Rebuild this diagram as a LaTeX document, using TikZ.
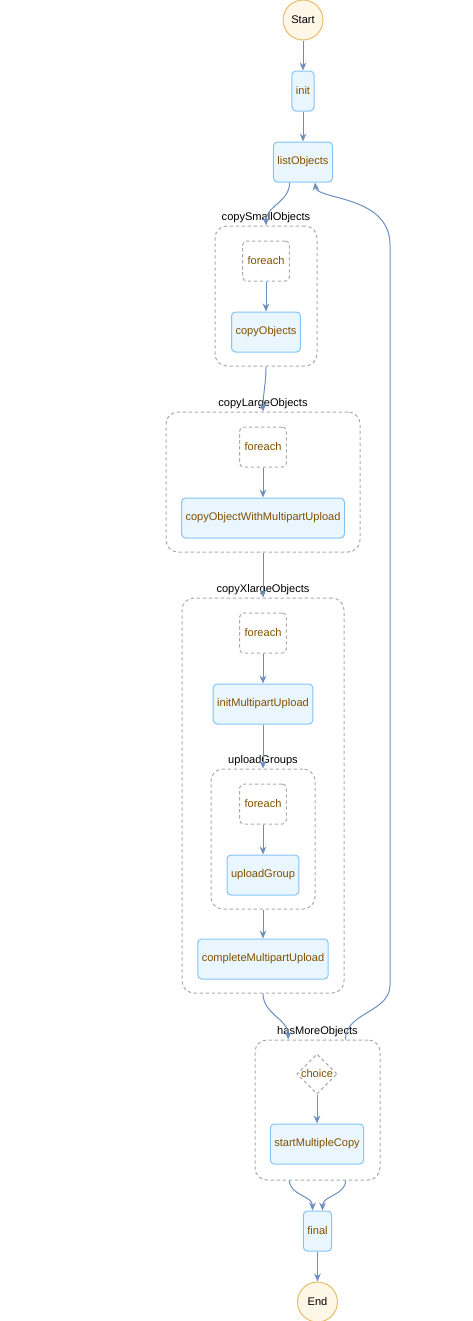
\documentclass[tikz,border=0pt]{standalone}
\usepackage{fontspec}
\setmainfont{Liberation Sans}
\usetikzlibrary{positioning,shapes.geometric,arrows.meta}
\definecolor{edgeblue}{RGB}{108,142,191}
\definecolor{taskfill}{RGB}{234,246,253}
\definecolor{taskline}{RGB}{132,196,246}
\definecolor{stepbrown}{RGB}{128,80,0}
\definecolor{termfill}{RGB}{254,246,230}
\definecolor{termline}{RGB}{228,190,106}
\definecolor{grpline}{RGB}{170,170,170}
\tikzset{
	task/.style={draw=taskline, fill=taskfill, rectangle, rounded corners=3pt, text=stepbrown, minimum height=30pt, inner xsep=3pt, line width=0.75pt},
	loopbox/.style={draw=grpline, dash pattern=on 2.5pt off 2pt, rectangle, rounded corners=3pt, text=stepbrown, minimum height=30pt, minimum width=35pt, line width=0.75pt},
	term/.style={draw=termline, fill=termfill, circle, minimum size=30pt, inner sep=0pt, line width=0.75pt},
	grp/.style={draw=grpline, dash pattern=on 2.5pt off 2pt, rectangle, rounded corners=9pt, inner sep=0pt, line width=0.75pt},
	glbl/.style={inner sep=1pt}
}
\begin{document}
\begin{tikzpicture}[
				x=0.75pt, y=-0.75pt,
				every node/.append style={font=\fontsize{8.3}{10}\selectfont},
				cho/.style={draw=grpline, dash pattern=on 2.5pt off 2pt, diamond, aspect=1, inner sep=0pt, text=stepbrown, line width=0.75pt},
				arrow/.style={-{Stealth[length=6pt,width=5pt]}, draw=edgeblue, line width=0.75pt}
				]
				\useasboundingbox (0,0) rectangle (473,1321);
				
				\node[term] (start) at (303,20) {Start};
				\node[task, below=22.5pt of start] (init) {init};
				\node[task, below=22.5pt of init] (list) {listObjects};
				
				% copySmallObjects
				\node[grp, minimum width=76.5pt, minimum height=105pt] (gsmall) at (266,296) {};
				\node[glbl, above=0.5pt of gsmall] (gsmalll) {copySmallObjects};
				\node[loopbox] (fe1) at (266,261) {foreach};
				\node[task, below=22.5pt of fe1] (copyobj) {copyObjects};
				
				% copyLargeObjects
				\node[grp, minimum width=145.5pt, minimum height=105pt] (glarge) at (263,482) {};
				\node[glbl, above=0.5pt of glarge] (glargel) {copyLargeObjects};
				\node[loopbox] (fe2) at (263,447) {foreach};
				\node[task, below=22.5pt of fe2] (cowmu) {copyObjectWithMultipartUpload};
				
				% copyXlargeObjects
				\node[grp, minimum width=121.5pt, minimum height=296.25pt] (gxl) at (263,795.5) {};
				\node[glbl, above=0.5pt of gxl] (gxll) {copyXlargeObjects};
				\node[loopbox] (fe3) at (263,633) {foreach};
				\node[task, below=22.5pt of fe3] (initmu) {initMultipartUpload};
				\node[grp, minimum width=78pt, minimum height=105pt] (gup) at (263,839) {};
				\node[glbl, above=0.5pt of gup] (gupl) {uploadGroups};
				\node[loopbox] (fe4) at (263,804) {foreach};
				\node[task, below=22.5pt of fe4] (upg) {uploadGroup};
				\node[task] (complmu) at (263,959) {completeMultipartUpload};
				
				% hasMoreObjects
				\node[grp, minimum width=93.75pt, minimum height=105pt] (ghas) at (317.5,1110) {};
				\node[glbl, above=0.5pt of ghas] (ghasl) {hasMoreObjects};
				\node[cho] (choice) at (317,1074) {choice};
				\node[task] (smc) at (317,1144) {startMultipleCopy};
				
				\node[task, below=22.5pt of ghas] (final) {final};
				\node[term, below=22.5pt of final] (stop) {End};
				
				\coordinate (loopbot) at (390,985);
				\coordinate (looptop) at (390,245);
				
				\draw[arrow] (start) -- (init);
				\draw[arrow] (init) -- (list);
				\draw[arrow] ([xshift=-10pt]list.south) to[out=-90,in=90] (gsmall.north);
				\draw[arrow] (fe1) -- (copyobj);
				\draw[arrow] (gsmall.south) to[out=-90,in=90] (glarge.north);
				\draw[arrow] (fe2) -- (cowmu);
				\draw[arrow] (glarge) -- (gxl);
				\draw[arrow] (fe3) -- (initmu);
				\draw[arrow] (initmu) -- (gup);
				\draw[arrow] (fe4) -- (upg);
				\draw[arrow] (gup) -- (complmu);
				\draw[arrow] (gxl.south) to[out=-90,in=90] ([xshift=-22pt]ghas.north);
				\draw[arrow] (choice) -- (smc);
				\draw[arrow] ([xshift=-21pt]ghas.south) to[out=-90,in=90] ([xshift=-3.75pt]final.north);
				\draw[arrow] ([xshift=21pt]ghas.south) to[out=-90,in=90] ([xshift=3.75pt]final.north);
				\draw[arrow] (final) -- (stop);
				\draw[arrow] ([xshift=21pt]ghas.north) to[out=90,in=-90] (loopbot) -- (looptop)
					.. controls (390,195) and (317,200) .. ([xshift=9pt]list.south);
				
			\end{tikzpicture}
\end{document}
